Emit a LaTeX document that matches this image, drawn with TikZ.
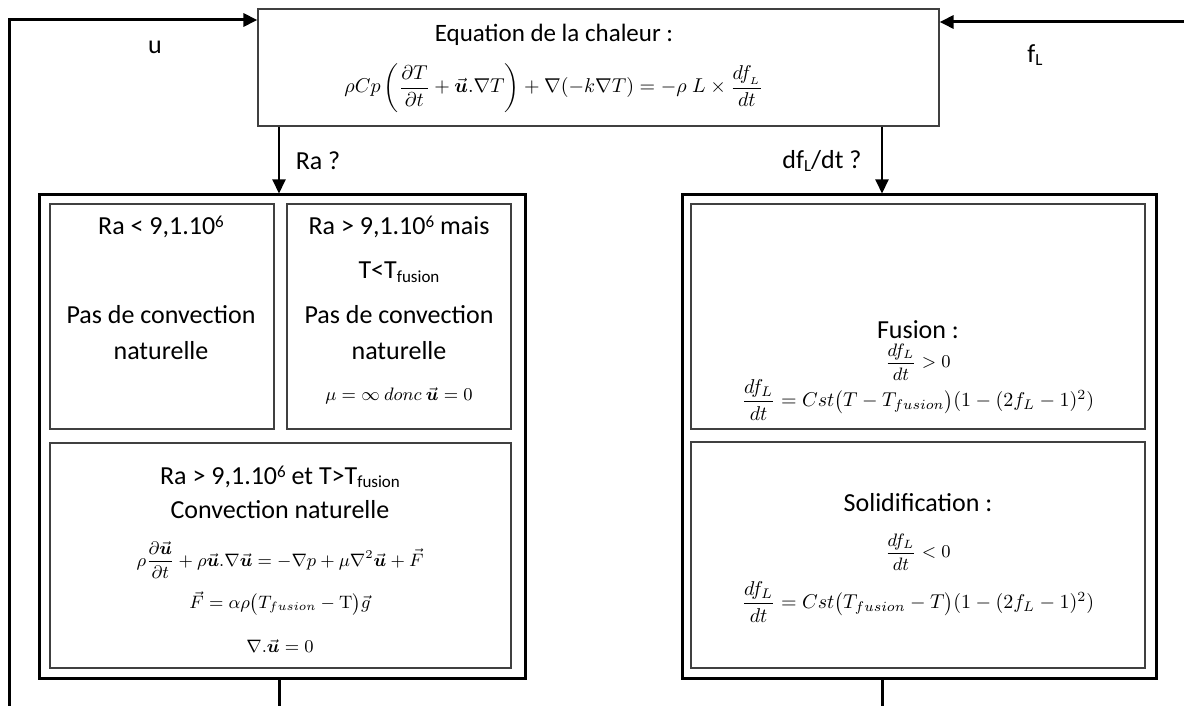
\documentclass[tikz,border=0pt]{standalone}
\usepackage{amsmath,amssymb}
\usepackage[no-math]{fontspec}
\setmainfont{Carlito}
\usetikzlibrary{arrows.meta}
\newcommand{\vu}{\vec{\boldsymbol{u}}}
\newcommand{\supx}[1]{\raisebox{0.55ex}{\fontsize{8.5}{9}\selectfont #1}}
\newcommand{\subx}[1]{\raisebox{-0.3ex}{\fontsize{8.5}{9}\selectfont #1}}
\begin{document}
\begin{tikzpicture}[x=0.5pt,y=-0.5pt,
  thinbox/.style={draw=black!75,line width=0.6pt,inner sep=0pt},
  thickbox/.style={draw=black,line width=1.5pt,inner sep=0pt},
  txt/.style={inner sep=0pt,align=center},
  big/.style={txt,font=\fontsize{13}{15}\selectfont},
  mth/.style={txt,font=\fontsize{9}{11}\selectfont},
  lbl/.style={inner sep=0pt,font=\fontsize{13}{15}\selectfont},
  fb/.style={line width=1.5pt,-{Triangle[length=7pt,width=6.5pt]}},
  dn/.style={line width=1pt,-{Triangle[length=7pt,width=6.5pt]}},
  bot/.style={line width=1.5pt}]
\useasboundingbox (0,0) rectangle (1184,706);
% boxes
\node[thinbox,minimum width=340.5pt,minimum height=58.5pt] (top) at (598.5,67.5) {};
\node[thickbox,minimum width=243pt,minimum height=241.5pt] (L) at (282,436.5) {};
\node[thickbox,minimum width=237pt,minimum height=241.5pt] (R) at (919,436.5) {};
\node[thinbox,minimum width=112pt,minimum height=112.5pt] (b1) at (162,316.5) {};
\node[thinbox,minimum width=112pt,minimum height=112.5pt] (b2) at (399,316.5) {};
\node[thinbox,minimum width=230.5pt,minimum height=112.5pt] (b3) at (280.5,555.5) {};
\node[thinbox,minimum width=227pt,minimum height=112.5pt] (fus) at (918,316.5) {};
\node[thinbox,minimum width=227pt,minimum height=113pt] (sol) at (918,555) {};
% top box text
\node[txt,font=\fontsize{12.5}{15}\selectfont] (t1) at (554,35) {Equation de la chaleur :};
\node[txt,font=\fontsize{10.2}{12}\selectfont] (t2) at (554,88) {$\rho Cp\left(\dfrac{\partial T}{\partial t}+\vu.\nabla T\right)+\nabla(-k\nabla T)=-\rho\;L\times\dfrac{df_{_L}}{dt}$};
% box 1
\node[big] (b1a) at (161,227) {Ra < 9,1.10\supx{6}};
\node[big] (b1b) at (161,315) {Pas de convection};
\node[big] (b1c) at (161,351) {naturelle};
% box 2
\node[big] (b2a) at (399,227) {Ra > 9,1.10\supx{6} mais};
\node[big] (b2b) at (399,272) {T<T\subx{fusion}};
\node[big] (b2c) at (399,315) {Pas de convection};
\node[big] (b2d) at (399,351) {naturelle};
\node[txt,font=\fontsize{9.4}{11}\selectfont] (b2e) at (399,396) {$\mu=\infty\ donc\ \vu=0$};
% box 3
\node[big] (b3a) at (280,477) {Ra > 9,1.10\supx{6} et T>T\subx{fusion}};
\node[big] (b3b) at (280,510) {Convection naturelle};
\node[mth] (b3c) at (280,560) {$\rho\dfrac{\partial\vu}{\partial t}+\rho\vu.\nabla\vu=-\nabla p+\mu\nabla^2\vu+\vec F$};
\node[mth] (b3d) at (280,603) {$\vec F=\alpha\rho\bigl(T_{fusion}-\mathrm{T}\bigr)\vec g$};
\node[mth] (b3e) at (280,646) {$\nabla.\vu=0$};
% fusion
\node[big] (f1) at (918,330) {Fusion :};
\node[mth] (f2) at (918,362) {$\dfrac{df_L}{dt}>0$};
\node[txt,font=\fontsize{9.6}{11}\selectfont] (f3) at (918,400) {$\dfrac{df_L}{dt}=Cst\bigl(T-T_{fusion}\bigr)(1-(2f_L-1)^2)$};
% solidification
\node[big] (s1) at (918,503) {Solidification :};
\node[mth] (s2) at (918,552) {$\dfrac{df_L}{dt}<0$};
\node[txt,font=\fontsize{9.6}{11}\selectfont] (s3) at (918,602) {$\dfrac{df_L}{dt}=Cst\bigl(T_{fusion}-T\bigr)(1-(2f_L-1)^2)$};
% labels
\node[lbl] (lu) at (155,47) {u};
\node[lbl] (lf) at (1035,55) {f\subx{L}};
\node[lbl] (lra) at (318,161) {Ra ?};
\node[lbl] (ldf) at (822,161) {df\subx{L}/dt ?};
% connectors
\coordinate (lb) at (9,706);
\coordinate (ly) at (0,20);
\coordinate (rb) at (1184,22);
\coordinate (ax) at (279,0);
\coordinate (bx) at (882,0);
\coordinate (lbot) at (279,706);
\coordinate (rbot) at (882,706);
\draw[fb] (lb) |- (top.west |- ly);
\draw[fb] (rb) -- (top.east |- rb);
\draw[dn] (top.south -| ax) -- (L.north -| ax);
\draw[dn] (top.south -| bx) -- (R.north -| bx);
\draw[bot] (L.south -| lbot) -- (lbot);
\draw[bot] (R.south -| rbot) -- (rbot);
\end{tikzpicture}
\end{document}
